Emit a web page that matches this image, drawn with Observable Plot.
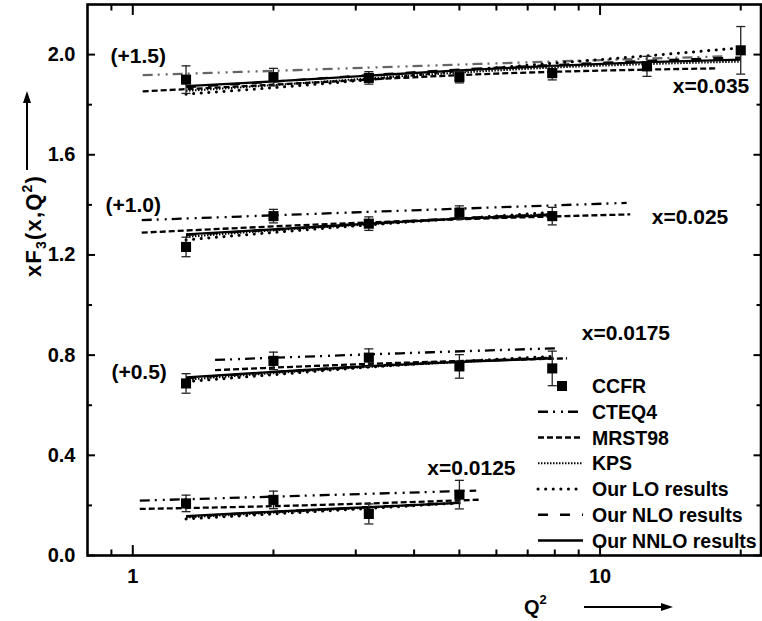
<!DOCTYPE html>
<html><head><meta charset="utf-8">
<script src="https://cdn.jsdelivr.net/npm/d3@7"></script>
<script src="https://cdn.jsdelivr.net/npm/@observablehq/plot@0.6"></script>
<style>body{margin:0;background:#fff} svg{display:block}</style>
</head><body><div id="chart"></div>
<script>
const FONT = "'Liberation Sans', Arial, Helvetica, sans-serif";

// ---------- CCFR data (Q² bins, shifted values, errors) ----------
const q2 = [1.3, 2.0, 3.2, 5.0, 7.9, 12.6, 20.0];
const ccfr_0125 = [0.208, 0.222, 0.166, 0.243];
const err_0125  = [0.033, 0.035, 0.040, 0.057];
const ccfr_0175 = [0.687, 0.777, 0.790, 0.755, 0.747];
const err_0175  = [0.039, 0.035, 0.035, 0.047, 0.069];
const ccfr_025  = [1.232, 1.355, 1.325, 1.369, 1.355];
const err_025   = [0.039, 0.027, 0.027, 0.027, 0.035];
const ccfr_035  = [1.900, 1.910, 1.907, 1.910, 1.926, 1.953, 2.017];
const err_035   = [0.055, 0.035, 0.025, 0.023, 0.027, 0.040, 0.095];

// ---------- CTEQ4 and MRST98 curves ----------
const cteqQ_0125 = [1.035, 2.0, 5.43];  const cteq_0125 = [0.219, 0.235, 0.259];
const mrstQ_0125 = [1.035, 2.0, 5.57];  const mrst_0125 = [0.186, 0.197, 0.223];
const cteqQ_0175 = [1.5, 3.2, 8.2];     const cteq_0175 = [0.781, 0.803, 0.828];
const mrstQ_0175 = [1.5, 3.2, 8.5];     const mrst_0175 = [0.740, 0.765, 0.787];
const cteqQ_025  = [1.045, 3.2, 11.4];  const cteq_025  = [1.339, 1.372, 1.408];
const mrstQ_025  = [1.045, 3.2, 11.6];  const mrst_025  = [1.289, 1.330, 1.362];
const cteqQ_035  = [1.05, 2.0, 6.0, 18.5]; const cteq_035 = [1.918, 1.935, 1.965, 1.993];
const mrstQ_035  = [1.05, 2.0, 6.0, 17.7]; const mrst_035 = [1.853, 1.880, 1.924, 1.945];

// ---------- KPS, our LO / NLO / NNLO (at CCFR Q² values) ----------
const kps_0125  = [0.152, 0.171, 0.191, 0.210];
const lo_0125   = [0.146, 0.166, 0.188, 0.210];
const nlo_0125  = [0.155, 0.174, 0.193, 0.211];
const nnlo_0125 = [0.157, 0.175, 0.193, 0.210];
const kps_0175  = [0.702, 0.728, 0.753, 0.772, 0.788];
const lo_0175   = [0.694, 0.722, 0.752, 0.775, 0.795];
const nlo_0175  = [0.708, 0.732, 0.757, 0.775, 0.790];
const nnlo_0175 = [0.711, 0.733, 0.756, 0.773, 0.787];
const kps_025   = [1.272, 1.298, 1.322, 1.345, 1.362];
const lo_025    = [1.260, 1.290, 1.320, 1.345, 1.370];
const nlo_025   = [1.280, 1.301, 1.326, 1.347, 1.362];
const nnlo_025  = [1.282, 1.302, 1.325, 1.345, 1.359];
const kps_035   = [1.855, 1.878, 1.905, 1.928, 1.948, 1.962, 1.972];
const lo_035    = [1.842, 1.868, 1.900, 1.935, 1.965, 1.995, 2.027];
const nlo_035   = [1.870, 1.892, 1.918, 1.940, 1.958, 1.975, 1.988];
const nnlo_035  = [1.874, 1.893, 1.916, 1.937, 1.955, 1.970, 1.980];

// ---------- annotations ----------
const labelText = ["(+1.5)", "(+1.0)", "(+0.5)", "x=0.035", "x=0.025", "x=0.0175", "x=0.0125"];
const labelQ    = [0.896, 0.874, 0.900, 14.31, 12.90, 9.14, 4.27];
const labelV    = [1.994, 1.400, 0.731, 1.873, 1.351, 0.888, 0.349];

// ---------- ticks ----------
const xMajor = [1, 10];
const xMinor = [0.9, 2, 3, 4, 5, 6, 7, 8, 9, 20];
const yMajor = [0, 0.4, 0.8, 1.2, 1.6, 2.0];
const yMinor = [0.2, 0.6, 1.0, 1.4, 1.8];

const legendNames = ["CCFR", "CTEQ4", "MRST98", "KPS", "Our LO results", "Our NLO results", "Our NNLO results"];

// ---------- build tables ----------
const pts = (vals, errs, bin) => vals.map((v, i) => ({bin, q: q2[i], v, lo: v - errs[i], hi: v + errs[i]}));
const points = [
  ...pts(ccfr_0125, err_0125, "0.0125"), ...pts(ccfr_0175, err_0175, "0.0175"),
  ...pts(ccfr_025, err_025, "0.025"), ...pts(ccfr_035, err_035, "0.035")
];
const ser = (model, bin, qs, vs) => vs.map((v, i) => ({model, bin, q: qs[i], v}));
const curves = [
  ...ser("CTEQ4", "0.0125", cteqQ_0125, cteq_0125), ...ser("MRST98", "0.0125", mrstQ_0125, mrst_0125),
  ...ser("CTEQ4", "0.0175", cteqQ_0175, cteq_0175), ...ser("MRST98", "0.0175", mrstQ_0175, mrst_0175),
  ...ser("CTEQ4", "0.025", cteqQ_025, cteq_025),   ...ser("MRST98", "0.025", mrstQ_025, mrst_025),
  ...ser("CTEQ4", "0.035", cteqQ_035, cteq_035),   ...ser("MRST98", "0.035", mrstQ_035, mrst_035),
  ...ser("KPS", "0.0125", q2, kps_0125), ...ser("LO", "0.0125", q2, lo_0125), ...ser("NLO", "0.0125", q2, nlo_0125), ...ser("NNLO", "0.0125", q2, nnlo_0125),
  ...ser("KPS", "0.0175", q2, kps_0175), ...ser("LO", "0.0175", q2, lo_0175), ...ser("NLO", "0.0175", q2, nlo_0175), ...ser("NNLO", "0.0175", q2, nnlo_0175),
  ...ser("KPS", "0.025", q2, kps_025),   ...ser("LO", "0.025", q2, lo_025),   ...ser("NLO", "0.025", q2, nlo_025),   ...ser("NNLO", "0.025", q2, nnlo_025),
  ...ser("KPS", "0.035", q2, kps_035),   ...ser("LO", "0.035", q2, lo_035),   ...ser("NLO", "0.035", q2, nlo_035),   ...ser("NNLO", "0.035", q2, nnlo_035)
];
const labels = labelText.map((t, i) => ({t, q: labelQ[i], v: labelV[i]}));

const style = {
  CTEQ4:  {dash: "10,5,2,6,2,5", w: 2.3, cap: "butt"},
  MRST98: {dash: "6,3", w: 2.3, cap: "butt"},
  KPS:    {dash: "1.5,1.5", w: 2, cap: "butt"},
  LO:     {dash: "0.1,7.5", w: 3, cap: "round"},
  NLO:    {dash: "10,12", w: 2.3, cap: "butt"},
  NNLO:   {dash: null, w: 2.4, cap: "butt"}
};
const modelKeys = ["CTEQ4", "MRST98", "KPS", "LO", "NLO", "NNLO"];

const capSymbol = {draw(ctx) { ctx.moveTo(-4.5, 0); ctx.lineTo(4.5, 0); }};

const lineMarks = modelKeys.map(m => Plot.line(curves.filter(d => d.model === m), {
  x: "q", y: "v", z: "bin",
  stroke: d => (m === "CTEQ4" && d.bin === "0.035") ? "#666" : "#000",
  strokeWidth: style[m].w, strokeDasharray: style[m].dash, curve: "monotone-x",
  strokeLinecap: style[m].cap
}));

const tickAxis = (fn, opts) => fn({...opts, tickFormat: () => "", label: null, strokeWidth: 2});

const chart = Plot.plot({
  width: 762, height: 621,
  marginLeft: 87, marginRight: 1.5, marginTop: 4, marginBottom: 66,
  x: {type: "log", domain: [0.8, 22.1], axis: null, label: null},
  y: {domain: [0, 2.2], axis: null, label: null},
  style: {fontFamily: FONT, fontWeight: "bold", fontSize: "20px", background: "#fff", color: "#000", overflow: "visible"},
  marks: [
    ...lineMarks,
    Plot.ruleX(points, {x: "q", y1: "lo", y2: "hi", stroke: "#222", strokeWidth: 1.3}),
    Plot.dot(points, {x: "q", y: "lo", symbol: capSymbol, stroke: "#222", strokeWidth: 1.3, fill: "none"}),
    Plot.dot(points, {x: "q", y: "hi", symbol: capSymbol, stroke: "#222", strokeWidth: 1.3, fill: "none"}),
    Plot.dot(points, {x: "q", y: "v", symbol: "square", r: 5.7, fill: "#000", stroke: "none"}),
    Plot.text(labels, {x: "q", y: "v", text: "t", textAnchor: "start", lineAnchor: "middle", fontSize: 21, fontWeight: "bold", fill: "#000"}),
    // ticks (inward)
    tickAxis(Plot.axisX, {anchor: "bottom", ticks: xMajor, tickSize: -10}),
    tickAxis(Plot.axisX, {anchor: "bottom", ticks: xMinor, tickSize: -5.5}),
    tickAxis(Plot.axisX, {anchor: "top", ticks: xMajor, tickSize: -10}),
    tickAxis(Plot.axisX, {anchor: "top", ticks: xMinor, tickSize: -5.5}),
    tickAxis(Plot.axisY, {anchor: "left", ticks: yMajor, tickSize: -8}),
    tickAxis(Plot.axisY, {anchor: "left", ticks: yMinor, tickSize: -5}),
    tickAxis(Plot.axisY, {anchor: "right", ticks: yMajor, tickSize: -8}),
    tickAxis(Plot.axisY, {anchor: "right", ticks: yMinor, tickSize: -5}),
    // tick labels
    Plot.axisX({anchor: "bottom", ticks: xMajor, tickSize: 0, tickPadding: 13, tickFormat: d => String(d), fontSize: 20, fontWeight: "bold", label: null}),
    Plot.axisY({anchor: "left", ticks: yMajor, tickSize: 0, tickPadding: 12, tickFormat: d3.format(".1f"), fontSize: 20, fontWeight: "bold", label: null}),
    Plot.frame({stroke: "#000", strokeWidth: 2.6})
  ]
});
document.getElementById("chart").appendChild(chart);

// ---------- extra decorations: axis titles, arrows, legend ----------
const svg = d3.select(chart);
const g = svg.append("g").attr("font-family", FONT).attr("font-weight", "bold").attr("fill", "#000").attr("text-anchor", "start");

// y title
const yt = g.append("text").attr("transform", "translate(33,226) rotate(-90)")
  .attr("text-anchor", "middle").attr("dy", "0.35em").attr("font-size", 22).attr("letter-spacing", 1.2);
yt.append("tspan").text("xF");
yt.append("tspan").text("3").attr("font-size", 14).attr("dy", 5);
yt.append("tspan").text("(x,Q").attr("dy", -5);
yt.append("tspan").text("2").attr("font-size", 14).attr("dy", -9);
yt.append("tspan").text(")").attr("dy", 9);
// y arrow
g.append("line").attr("x1", 27).attr("x2", 27).attr("y1", 170).attr("y2", 101).attr("stroke", "#000").attr("stroke-width", 2);
g.append("path").attr("d", "M27,91 L23,103 L31,103 Z").attr("fill", "#000");

// x title
const xt = g.append("text").attr("x", 524).attr("y", 614).attr("font-size", 20).attr("text-anchor", "start");
xt.append("tspan").text("Q");
xt.append("tspan").text("2").attr("font-size", 13).attr("dy", -10);
// x arrow
g.append("line").attr("x1", 584).attr("x2", 663).attr("y1", 607).attr("y2", 607).attr("stroke", "#000").attr("stroke-width", 2);
g.append("path").attr("d", "M673,607 L661,603 L661,611 Z").attr("fill", "#000");

// legend
const lg = g.append("g");
const legendStyles = [null, style.CTEQ4, style.MRST98, style.KPS, style.LO, style.NLO, style.NNLO];
legendNames.forEach((name, i) => {
  const y = 386 + i * 25.75;
  if (i === 0) {
    lg.append("rect").attr("x", 557).attr("y", y - 5).attr("width", 10).attr("height", 10).attr("fill", "#000");
  } else {
    const s = legendStyles[i];
    lg.append("line").attr("x1", 538).attr("x2", 583).attr("y1", y).attr("y2", y)
      .attr("stroke", "#000").attr("stroke-width", s.w).attr("stroke-dasharray", s.dash)
      .attr("stroke-linecap", s.cap);
  }
  lg.append("text").attr("x", 592).attr("y", y).attr("dy", "0.36em").attr("font-size", 19.5)
    .attr("text-anchor", "start").text(name);
});
</script>
</body></html>
